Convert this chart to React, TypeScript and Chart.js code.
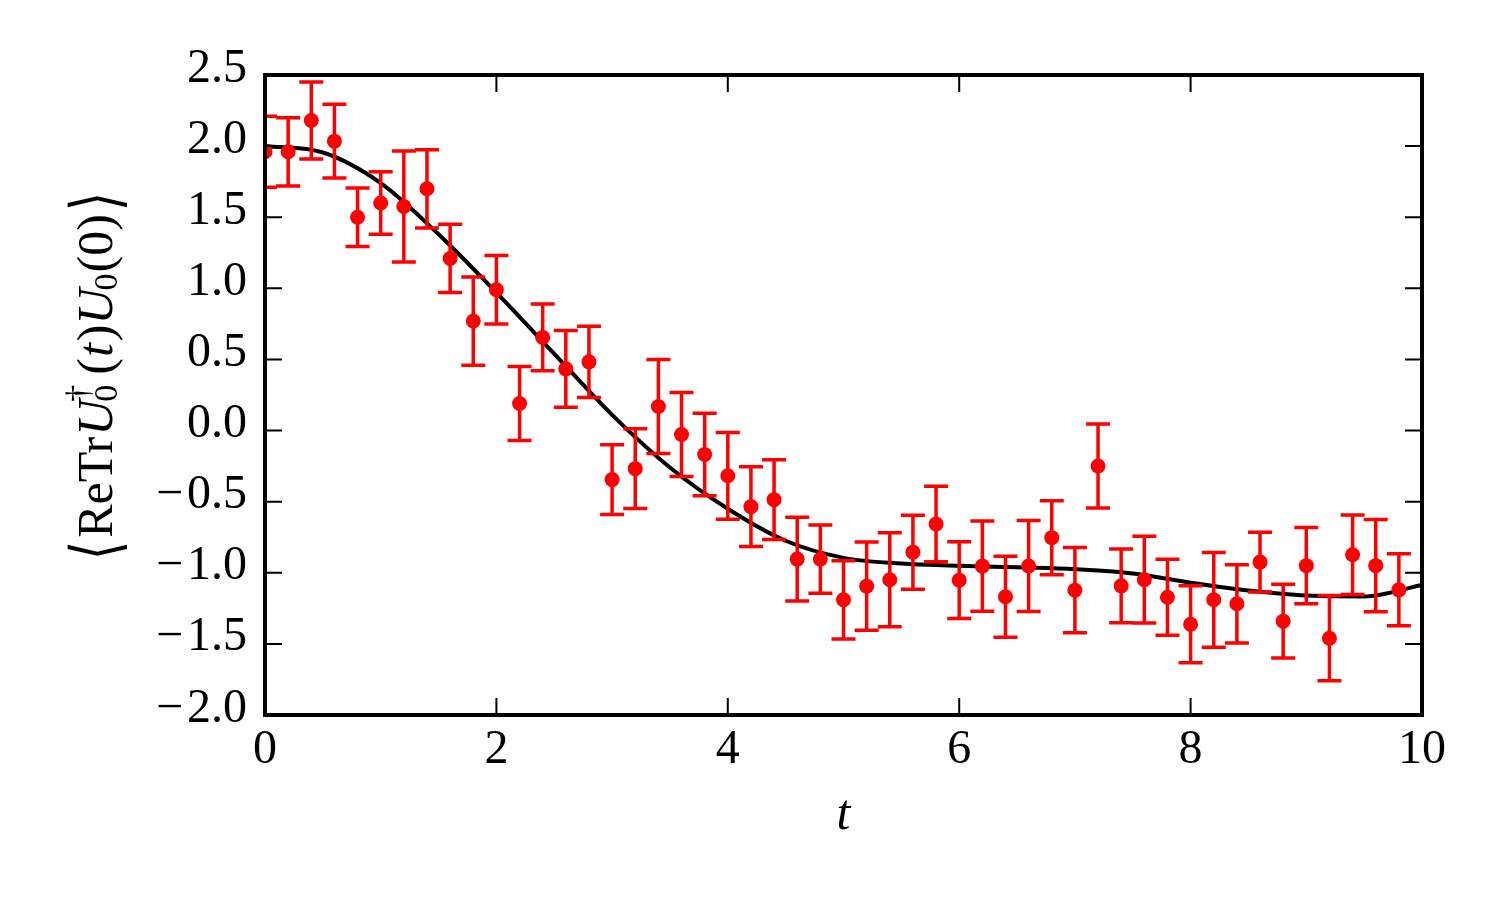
import React, { useEffect, useRef } from 'react';
import { Chart, registerables } from 'chart.js';

Chart.register(...registerables);

// ---- data ----
const tValues = [
  0, 0.2, 0.4, 0.6, 0.8, 1.0, 1.2, 1.4, 1.6, 1.8,
  2.0, 2.2, 2.4, 2.6, 2.8, 3.0, 3.2, 3.4, 3.6, 3.8,
  4.0, 4.2, 4.4, 4.6, 4.8, 5.0, 5.2, 5.4, 5.6, 5.8,
  6.0, 6.2, 6.4, 6.6, 6.8, 7.0, 7.2, 7.4, 7.6, 7.8,
  8.0, 8.2, 8.4, 8.6, 8.8, 9.0, 9.2, 9.4, 9.6, 9.8,
];
const corrValues = [
  1.96, 1.96, 2.18, 2.035, 1.5, 1.6, 1.575, 1.7, 1.21, 0.77,
  0.99, 0.19, 0.655, 0.434, 0.483, -0.345, -0.268, 0.169, -0.028, -0.168,
  -0.318, -0.535, -0.486, -0.904, -0.904, -1.19, -1.094, -1.049, -0.855, -0.657,
  -1.052, -0.953, -1.169, -0.952, -0.753, -1.122, -0.249, -1.092, -1.049, -1.172,
  -1.362, -1.19, -1.218, -0.925, -1.34, -0.95, -1.46, -0.873, -0.95, -1.12,
];
const corrErrors = [
  0.25, 0.24, 0.27, 0.26, 0.205, 0.22, 0.39, 0.275, 0.24, 0.31,
  0.24, 0.26, 0.235, 0.27, 0.25, 0.245, 0.28, 0.33, 0.295, 0.29,
  0.305, 0.28, 0.28, 0.295, 0.24, 0.275, 0.31, 0.33, 0.26, 0.265,
  0.27, 0.317, 0.285, 0.32, 0.26, 0.3, 0.295, 0.26, 0.305, 0.267,
  0.27, 0.333, 0.275, 0.21, 0.26, 0.268, 0.3, 0.28, 0.324, 0.253,
];
const fitT = [0, 0.5, 1, 1.5, 2, 2.5, 3, 3.5, 4, 4.5, 5, 5.5, 6, 6.5, 7, 7.5, 8, 8.5, 9, 9.5, 10];
const fitValues = [
  2.0, 1.955, 1.74, 1.38, 0.97, 0.54, 0.11, -0.26, -0.55, -0.775, -0.895,
  -0.935, -0.95, -0.962, -0.975, -1.005, -1.07, -1.125, -1.16, -1.166, -1.085,
];
const xTickValues = [0, 2, 4, 6, 8, 10];
const yMin = -2.0;
const yMax = 2.5;
const yStep = 0.5;
const xLabel = 't';

const SERIF = '"Liberation Serif", "DejaVu Serif", serif';

const fmtY = (v: number) => {
  const s = Math.abs(v).toFixed(1);
  return v < -1e-9 ? '\u2212\u200A' + s : s;
};

const errorBarPlugin = {
  id: 'errorBars',
  afterDatasetsDraw(chart: any) {
    const { ctx, chartArea, scales } = chart;
    const xs = scales.x;
    const ys = scales.y;
    ctx.save();
    ctx.beginPath();
    ctx.rect(chartArea.left, chartArea.top, chartArea.right - chartArea.left, chartArea.bottom - chartArea.top);
    ctx.clip();
    ctx.strokeStyle = '#ff0000';
    ctx.lineWidth = 3.5;
    const cap = 12;
    for (let i = 0; i < tValues.length; i++) {
      const px = xs.getPixelForValue(tValues[i]);
      const hi = ys.getPixelForValue(corrValues[i] + corrErrors[i]);
      const lo = ys.getPixelForValue(corrValues[i] - corrErrors[i]);
      ctx.beginPath();
      ctx.moveTo(px, hi);
      ctx.lineTo(px, lo);
      ctx.moveTo(px - cap, hi);
      ctx.lineTo(px + cap, hi);
      ctx.moveTo(px - cap, lo);
      ctx.lineTo(px + cap, lo);
      ctx.stroke();
    }
    ctx.restore();
  },
};

const framePlugin = {
  id: 'frame',
  afterDraw(chart: any) {
    const { ctx, chartArea, scales } = chart;
    const { left, right, top, bottom } = chartArea;
    ctx.save();
    ctx.strokeStyle = '#000';
    const tl = 17;
    ctx.lineWidth = 2;
    ctx.beginPath();
    scales.x.ticks.forEach((t: any) => {
      const px = scales.x.getPixelForValue(t.value);
      ctx.moveTo(px, bottom);
      ctx.lineTo(px, bottom - tl);
      ctx.moveTo(px, top);
      ctx.lineTo(px, top + tl);
    });
    scales.y.ticks.forEach((t: any) => {
      const py = scales.y.getPixelForValue(t.value);
      ctx.moveTo(left, py);
      ctx.lineTo(left + tl, py);
      ctx.moveTo(right, py);
      ctx.lineTo(right - tl, py);
    });
    ctx.stroke();
    ctx.lineWidth = 4;
    ctx.strokeRect(left, top, right - left, bottom - top);
    ctx.restore();

    // y-axis label with mixed upright / italic / sub / superscript parts
    const F = 50;
    const S = 34;
    const up = (s: number) => `${s}px ${SERIF}`;
    const it = (s: number) => `italic ${s}px ${SERIF}`;
    const br = `${F}px "DejaVu Sans", "DejaVu Serif", sans-serif`;
    type P = { t: string; f: string; dy: number; b?: boolean };
    const groups: { parts: P[]; gap: number }[] = [
      { parts: [{ t: '\u27E8', f: br, dy: 0, b: true }], gap: 3 },
      { parts: [{ t: 'ReTr', f: up(F), dy: 0 }], gap: 1 },
      { parts: [{ t: 'U', f: it(F), dy: 0 }], gap: -2 },
      { parts: [{ t: '0', f: up(S), dy: 5 }, { t: '\u2020', f: up(S), dy: -23 }], gap: 10 },
      { parts: [{ t: '(', f: up(F), dy: 0 }], gap: 1 },
      { parts: [{ t: 't', f: it(F), dy: 0 }], gap: 2 },
      { parts: [{ t: ')', f: up(F), dy: 0 }], gap: 0 },
      { parts: [{ t: 'U', f: it(F), dy: 0 }], gap: -2 },
      { parts: [{ t: '0', f: up(S), dy: 5 }], gap: 1 },
      { parts: [{ t: '(0)', f: up(F), dy: 0 }], gap: 3 },
      { parts: [{ t: '\u27E9', f: br, dy: 0, b: true }], gap: 0 },
    ];
    ctx.save();
    ctx.fillStyle = '#000';
    ctx.textAlign = 'left';
    ctx.textBaseline = 'alphabetic';
    const widths = groups.map((g) =>
      Math.max(...g.parts.map((p) => { ctx.font = p.f; return ctx.measureText(p.t).width; }))
    );
    const total = widths.reduce((a, w, i) => a + w + groups[i].gap, 0);
    ctx.translate(112, 376);
    ctx.rotate(-Math.PI / 2);
    let x = -total / 2;
    groups.forEach((g, i) => {
      g.parts.forEach((p) => {
        ctx.font = p.f;
        if (p.b) {
          const m = ctx.measureText(p.t);
          const asc = m.actualBoundingBoxAscent;
          const desc = m.actualBoundingBoxDescent;
          const H = 60;
          const c = -15;
          const sc = H / Math.max(1, asc + desc);
          ctx.save();
          ctx.translate(x, c);
          ctx.scale(1, sc);
          ctx.fillText(p.t, 0, (asc - desc) / 2);
          ctx.restore();
        } else {
          ctx.fillText(p.t, x, p.dy);
        }
      });
      x += widths[i] + g.gap;
    });
    ctx.restore();
  },
};

export default function App() {
  const ref = useRef<HTMLCanvasElement>(null);
  useEffect(() => {
    if (!ref.current) return;
    const chart = new Chart(ref.current, {
      type: 'line',
      data: {
        datasets: [
          {
            label: 'data',
            data: tValues.map((t, i) => ({ x: t, y: corrValues[i] })),
            showLine: false,
            pointRadius: 7.5,
            pointBorderWidth: 0,
            pointBackgroundColor: '#ff0000',
            pointBorderColor: '#ff0000',
            backgroundColor: '#ff0000',
            borderColor: '#ff0000',
          },
          {
            label: 'fit',
            data: fitT.map((t, i) => ({ x: t, y: fitValues[i] })),
            borderColor: '#000000',
            borderWidth: 4,
            pointRadius: 0,
            cubicInterpolationMode: 'monotone',
            fill: false,
          },
        ],
      },
      options: {
        responsive: false,
        animation: false,
        events: [],
        layout: { padding: { left: 0, top: 75, right: 78, bottom: 0 } },
        plugins: {
          legend: { display: false },
          tooltip: { enabled: false },
          title: { display: false },
        },
        scales: {
          x: {
            type: 'linear',
            min: 0,
            max: 10,
            afterFit: (s: any) => { s.height = 185; },
            afterBuildTicks: (s: any) => { s.ticks = xTickValues.map((v) => ({ value: v })); },
            grid: { display: false, drawTicks: false },
            border: { display: false },
            ticks: {
              padding: 7,
              maxRotation: 0,
              autoSkip: false,
              color: '#000',
              font: { family: SERIF, size: 48 },
              callback: (v: any) => String(v),
            },
            title: {
              display: true,
              text: xLabel,
              color: '#000',
              font: { family: SERIF, size: 50, style: 'italic' },
              padding: { top: 0, bottom: 54 },
            },
          },
          y: {
            type: 'linear',
            min: yMin,
            max: yMax,
            afterFit: (s: any) => { s.width = 265; },
            grid: { display: false, drawTicks: false },
            border: { display: false },
            ticks: {
              stepSize: yStep,
              padding: 18,
              labelOffset: -6,
              autoSkip: false,
              color: '#000',
              font: { family: SERIF, size: 48 },
              callback: (v: any) => fmtY(Number(v)),
            },
          },
        },
      },
      plugins: [errorBarPlugin, framePlugin],
    } as any);
    return () => chart.destroy();
  }, []);
  return (
    <div style={{ position: 'fixed', left: 0, top: 0, width: 1500, height: 900, background: '#fff' }}>
      <canvas ref={ref} width={1500} height={900} style={{ width: 1500, height: 900, display: 'block' }} />
    </div>
  );
}
